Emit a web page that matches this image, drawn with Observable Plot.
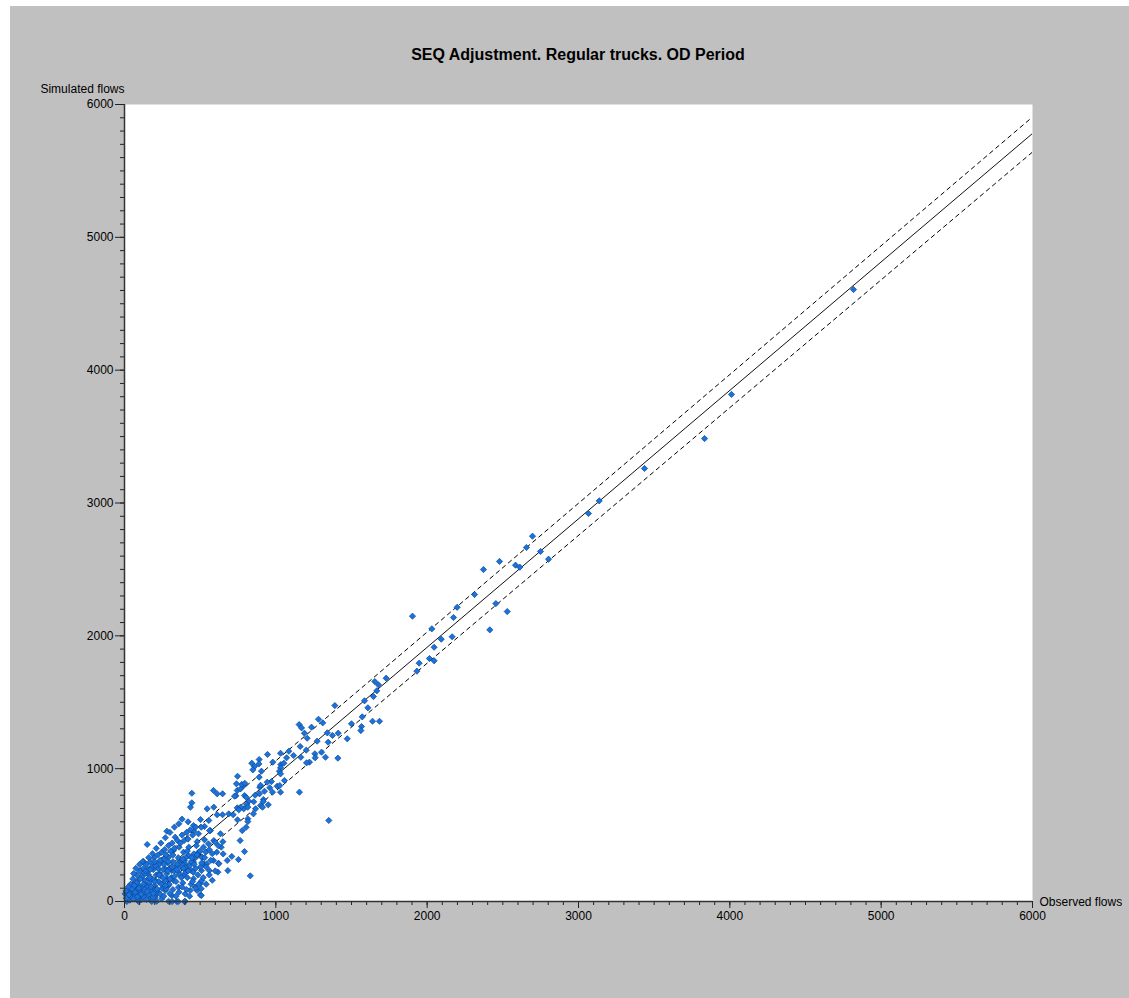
<!DOCTYPE html>
<html>
<head>
<meta charset="utf-8">
<script src="https://cdn.jsdelivr.net/npm/d3@7"></script>
<script src="https://cdn.jsdelivr.net/npm/@observablehq/plot@0.6"></script>
<style>
  body { margin: 0; background: #ffffff; }
  #wrap { position: absolute; left: 10px; top: 6px; width: 1119px; height: 992px; background: #c0c0c0; overflow: hidden; }
  #title { position: absolute; top: 39px; left: 0; width: 1136px; text-align: center; font: bold 16px "Liberation Sans", Arial, sans-serif; line-height: 20px; color: #000; }
  #chart { position: absolute; top: 70px; left: 0; }
</style>
</head>
<body>
<div id="wrap">
  <div id="title">SEQ Adjustment. Regular trucks. OD Period</div>
  <div id="chart"></div>
</div>
<script>
// Observed / simulated flows (x, y pairs)
const observed = [
  4817,4011,3833,3436,3137,3066,2696,2656,2749,2802,2584,2612,2478,2372,2313,2454,2529,2414,2198,2174,2165,1903,2093,2031,2046,2015,2046,1947,1932,
  1729,1654,1678,1667,1645,1586,1608,1390,1282,1310,1571,1639,1685,1500,1566,1154,1170,1236,1562,1472,1412,1340,1374,1189,1207,1273,1346,1161,1201,1302,1328,1410,1086,1117,1165,1258,1260,1222,1203,1031,945,890,980,1033,1053,1071,841,859,848,888,905,1031,1024,1031,1057,1009,971,960,1026,890,894,943,978,1031,1156,1350,
  747,745,767,788,793,736,727,775,795,740,804,899,588,648,612,445,445,436,892,925,918,917,854,899,950,821,808,788,745,767,912,866,863,590,546,612,648,689,718,755,747,815,815,804,778,764,793,831,753,709,683,621,617,852,815,502,557,568,634,590,639,652,679,623,524,513,509,502,480,502,529,562,507,456,489,458,359,280,335,150,529,555,522,489,511,537,599,610,588,544,560,500,456,441,423,390,372,401,412,361,425,458,447,403,381,324,291,246,203,126,108,170,225,269,313,357,390,456,511,507,507,401,434,467,357,324,280,291,246,203,159,137,81,48,93,180,225,269,313,346,401,291,26,71,114,159,203,246,4,15,93,180,213,355,396,315,
  20,35,50,60,75,85,95,105,110,120,130,140,150,160,165,175,185,190,200,210,215,225,230,240,250,255,260,270,280,285,295,300,310,320,330,340,345,355,365,375,385,395,405,415,430,440,455,470,485,40,55,65,80,90,100,115,125,135,145,155,170,180,195,205,220,235,245,265,275,290,305,315,330,350,370,380,395,410,420,435,450,470,480,12,30,45,70,88,100,130,145,160,190,205,235,260,275,300,320,340,360,380,410,430,450,470,490,520,540,560,580,600,470,500,530,560,580,620,650,420,380,330,300,270,240,210,185,160,120,100,75,60,25,10,
  60,70,85,95,110,125,135,150,165,175,190,200,215,230,245,255,270,285,300,315,330,345,360,375,390,405,420,440,460,480,50,80,105,140,170,200,230,260,290,320,350,385,415,445,475,510,540,570,30,65
];
const simulated = [
  4607,3817,3485,3260,3016,2921,2750,2665,2635,2577,2532,2517,2560,2499,2311,2243,2183,2045,2215,2138,1993,2148,1975,2053,1914,1829,1812,1794,1734,
  1681,1656,1631,1586,1543,1511,1458,1475,1372,1345,1390,1357,1357,1338,1317,1332,1307,1312,1287,1225,1267,1270,1250,1267,1229,1207,1199,1167,1139,1124,1086,1079,1131,1099,1086,1112,1082,1049,1044,1116,1107,1069,1049,1031,1041,1082,1041,1016,991,1036,981,1006,981,961,911,868,903,856,873,936,860,898,823,823,823,610,
  943,836,848,873,798,796,793,881,890,886,785,875,836,811,811,815,743,710,811,830,768,753,751,723,728,755,730,698,705,710,710,698,800,710,698,653,653,660,653,690,615,623,602,559,534,459,376,193,316,339,233,288,221,660,710,617,610,534,510,459,409,358,309,284,284,333,233,138,83,50,565,534,559,572,510,529,585,529,484,429,464,434,409,371,333,371,446,371,309,284,233,258,296,233,346,371,309,284,239,409,409,358,296,258,309,384,333,309,284,301,233,245,245,245,233,221,196,171,158,96,45,58,83,108,108,158,171,120,133,158,171,133,145,83,83,83,70,83,45,0,2,2,20,20,32,20,32,20,58,0,0,0,2,0,0,0,
  40,10,60,30,90,50,120,70,15,100,160,60,110,200,140,80,170,240,120,200,60,150,280,190,100,240,320,160,210,290,130,250,180,300,230,150,270,330,200,260,140,310,220,180,270,130,220,250,200,130,170,110,200,160,230,190,250,210,280,240,300,260,330,270,350,310,370,390,350,420,380,440,400,460,440,500,460,520,470,540,500,560,450,25,65,35,45,15,40,30,15,55,35,90,55,40,95,60,90,40,70,110,90,40,150,100,130,180,130,200,160,230,330,380,330,390,360,420,450,600,620,560,520,480,440,400,360,330,300,280,250,210,110,80,
  20,70,35,100,55,130,90,75,180,110,60,150,95,210,130,180,120,230,170,260,190,240,290,180,250,330,230,300,280,350,95,140,170,230,240,300,200,280,300,350,280,320,380,330,420,290,260,310,50,120
];

// Fitted line and dashed band (end points)
const lineX = [0, 6000];
const fitY = [-20, 5782];
const upperY = [90, 5906];
const lowerY = [-130, 5642];

const tickValues = [0, 1000, 2000, 3000, 4000, 5000, 6000];
const minorTicks = d3.range(0, 6001, 100);

const points = observed.map((x, i) => ({x, y: simulated[i]}));
const fit = lineX.map((x, i) => ({x, y: fitY[i]}));
const upper = lineX.map((x, i) => ({x, y: upperY[i]}));
const lower = lineX.map((x, i) => ({x, y: lowerY[i]}));

const fmt = d => String(d);

const chart = Plot.plot({
  width: 1119,
  height: 922,
  marginLeft: 114,
  marginRight: 97,
  marginTop: 28,
  marginBottom: 97,
  style: {background: "#c0c0c0", fontFamily: "'Liberation Sans', Arial, sans-serif", fontSize: "12px", color: "#000"},
  x: {domain: [0, 6000]},
  y: {domain: [0, 6000]},
  marks: [
    Plot.frame({fill: "white", stroke: null}),
    Plot.line(upper, {x: "x", y: "y", stroke: "#000", strokeWidth: 1, strokeDasharray: "4,4", clip: true}),
    Plot.line(lower, {x: "x", y: "y", stroke: "#000", strokeWidth: 1, strokeDasharray: "4,4", clip: true}),
    Plot.line(fit, {x: "x", y: "y", stroke: "#111", strokeWidth: 1, clip: true}),
    Plot.dot(points, {x: "x", y: "y", symbol: "diamond2", r: 2.8, fill: "#1a72da", stroke: "#0a4696", strokeWidth: 0.7}),
    Plot.axisX({ticks: minorTicks, tickSize: 4, tickFormat: () => "", label: null, stroke: "#222"}),
    Plot.axisX({ticks: tickValues, tickSize: 7, tickPadding: 3, tickFormat: fmt, label: null, stroke: "#222"}),
    Plot.axisY({ticks: minorTicks, tickSize: 4, tickFormat: () => "", label: null, stroke: "#222"}),
    Plot.axisY({ticks: tickValues, tickSize: 9, tickPadding: 2, tickFormat: fmt, label: null, stroke: "#222"}),
    Plot.ruleX([0], {stroke: "#333", strokeWidth: 1.5}),
    Plot.ruleY([0], {stroke: "#333", strokeWidth: 1.5}),
    Plot.text(["Simulated flows"], {text: d => d, frameAnchor: "top-left", textAnchor: "end", lineAnchor: "middle", dy: -15.5, fill: "#000"}),
    Plot.text(["Observed flows"], {text: d => d, frameAnchor: "bottom-right", textAnchor: "start", lineAnchor: "middle", dx: 7, dy: 1, fill: "#000"})
  ]
});
document.getElementById("chart").appendChild(chart);
</script>
</body>
</html>
